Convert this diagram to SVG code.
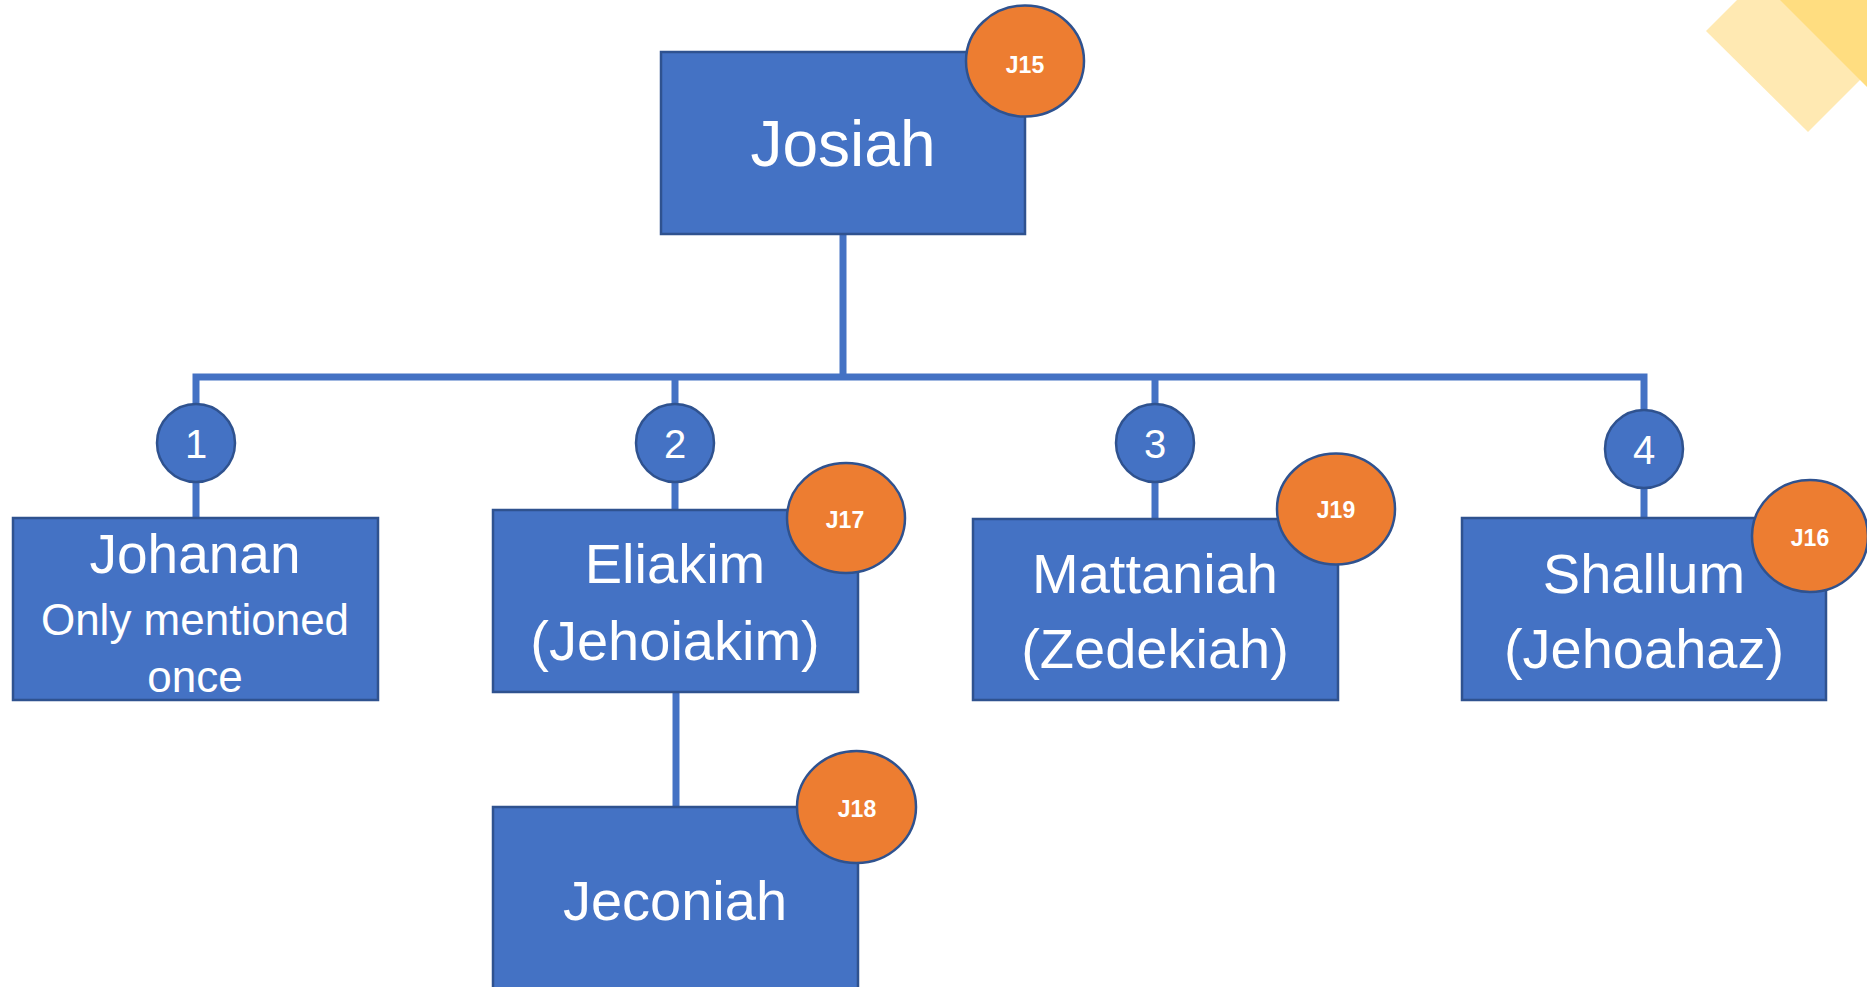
<svg xmlns="http://www.w3.org/2000/svg" width="1867" height="987" viewBox="0 0 1867 987">
<style>
.box{fill:#4472C4;stroke:#2F528F;stroke-width:2.5}
.num{fill:#4472C4;stroke:#2F528F;stroke-width:2.5}
.tag{fill:#ED7D31;stroke:#2F528F;stroke-width:2.5}
.conn{fill:none;stroke:#4472C4;stroke-width:7;stroke-linejoin:miter}
text{font-family:"Liberation Sans",Arial,sans-serif;fill:#fff;text-anchor:middle}
.name{font-size:56px}
.big{font-size:64px}
.sub{font-size:44px}
.n{font-size:40px}
.t{font-size:23px;font-weight:bold}
</style>
<rect width="1867" height="987" fill="#fff"/>
<g id="decoration">
<polygon points="1737,0 1706,31 1808,132 1867,73 1867,0" fill="#FFE9B2"/>
<polygon points="1780,0 1867,87 1867,0" fill="#FFDD80"/>
</g>
<g id="connectors">
<line class="conn" x1="843" y1="234" x2="843" y2="377"/>
<path class="conn" d="M196,518 V377 H1644 V518"/>
<line class="conn" x1="675" y1="377" x2="675" y2="510"/>
<line class="conn" x1="1155" y1="377" x2="1155" y2="519"/>
<line class="conn" x1="676" y1="692" x2="676" y2="807"/>
</g>
<g id="josiah">
<rect class="box" x="661" y="52" width="364" height="182"/>
<text class="big" x="843" y="166">Josiah</text>
<ellipse class="tag" cx="1025" cy="61" rx="59" ry="55.5"/>
<text class="t" x="1025" y="73">J15</text>
</g>
<g id="n1">
<circle class="num" cx="196" cy="443" r="39"/>
<text class="n" x="196" y="458">1</text>
</g>
<g id="n2">
<circle class="num" cx="675" cy="443" r="39"/>
<text class="n" x="675" y="458">2</text>
</g>
<g id="n3">
<circle class="num" cx="1155" cy="443" r="39"/>
<text class="n" x="1155" y="458">3</text>
</g>
<g id="n4">
<circle class="num" cx="1644" cy="449" r="39"/>
<text class="n" x="1644" y="464">4</text>
</g>
<g id="johanan">
<rect class="box" x="13" y="518" width="365" height="182"/>
<text class="name" x="195" y="573" style="font-size:55px">Johanan</text>
<text class="sub" x="195" y="635">Only mentioned</text>
<text class="sub" x="195" y="692">once</text>
</g>
<g id="eliakim">
<rect class="box" x="493" y="510" width="365" height="182"/>
<text class="name" x="675" y="583">Eliakim</text>
<text class="name" x="675" y="660">(Jehoiakim)</text>
<ellipse class="tag" cx="846" cy="518" rx="59" ry="55"/>
<text class="t" x="845" y="528">J17</text>
</g>
<g id="mattaniah">
<rect class="box" x="973" y="519" width="365" height="181"/>
<text class="name" x="1155" y="593">Mattaniah</text>
<text class="name" x="1155" y="668">(Zedekiah)</text>
<ellipse class="tag" cx="1336" cy="509" rx="59" ry="55.5"/>
<text class="t" x="1336" y="518">J19</text>
</g>
<g id="shallum">
<rect class="box" x="1462" y="518" width="364" height="182"/>
<text class="name" x="1644" y="593">Shallum</text>
<text class="name" x="1644" y="668">(Jehoahaz)</text>
<ellipse class="tag" cx="1810" cy="536" rx="58" ry="56"/>
<text class="t" x="1810" y="546">J16</text>
</g>
<g id="jeconiah">
<rect class="box" x="493" y="807" width="365" height="200"/>
<text class="name" x="675" y="920">Jeconiah</text>
<ellipse class="tag" cx="856.5" cy="807" rx="59.5" ry="56"/>
<text class="t" x="857" y="817">J18</text>
</g>
</svg>
